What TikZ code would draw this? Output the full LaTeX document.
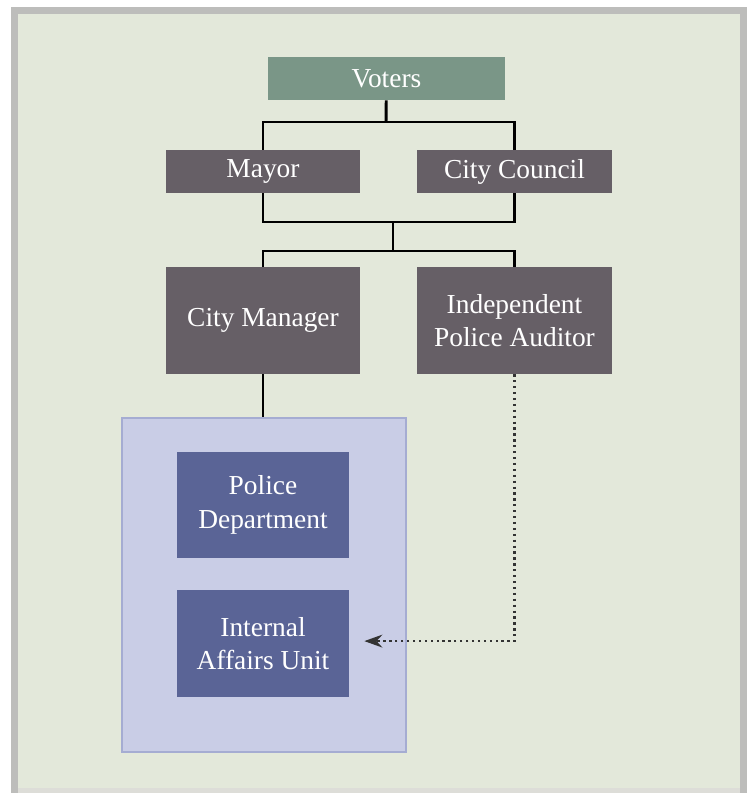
\documentclass[tikz,border=0pt]{standalone}
\usepackage{fontspec}
\setmainfont{Liberation Serif}
\usetikzlibrary{arrows.meta}
\definecolor{frameGray}{HTML}{BDBDBB}
\definecolor{frameLight}{HTML}{DDDDD8}
\definecolor{paperGreen}{HTML}{E3E8DA}
\definecolor{voterGreen}{HTML}{7A9687}
\definecolor{officeGray}{HTML}{665F66}
\definecolor{policeBlue}{HTML}{5A6496}
\definecolor{panelBlue}{HTML}{C9CDE6}
\definecolor{panelEdge}{HTML}{A5ACD2}
\tikzset{%
  >={Stealth[width=3.2mm,length=4.5mm]},
  % Specifications for style of nodes:
        base/.style = {rectangle, draw=none, text=white, align=center,
                       inner sep=0pt, font=\fontsize{19.5}{24}\selectfont},
      voters/.style = {base, fill=voterGreen, minimum width=5.925cm, minimum height=1.075cm},
      office/.style = {base, fill=officeGray, minimum width=4.85cm, minimum height=1.075cm},
   bigOffice/.style = {office, minimum height=2.675cm},
      police/.style = {base, fill=policeBlue, minimum width=4.3cm, minimum height=2.65cm},
       panel/.style = {rectangle, fill=panelBlue, draw=panelEdge, line width=1.2pt,
                       minimum width=7.1cm, minimum height=8.35cm},
        link/.style = {draw=black, line width=2.1pt},
   auditLink/.style = {draw=black!80, line width=1.8pt, line cap=butt,
                       dash pattern=on 1.6pt off 2.6pt},
}

\begin{document}
\begin{tikzpicture}[x=0.025cm, y=-0.025cm]
\useasboundingbox (0,0) rectangle (752,793);
% frame and paper
\fill[frameGray] (11,7) rectangle (747,793);
\fill[frameLight] (18,788) rectangle (740,793);
\fill[paperGreen] (18,14) rectangle (740,788);

% Specification of nodes (position, etc.)
\node (policePanel) at (264,585) [panel] {};

\node (voters) at (386.5,78.5) [voters] {Voters};
\node (mayor) at (263,171.5) [office] {Mayor};
\node (cityCouncil) at (514.5,171.5) [office] {City Council};

\node (cityManager) at (263,320.5) [bigOffice] {City Manager};
\node (policeAuditor) at (514.5,320.5) [bigOffice] {Independent\\Police Auditor};

\node (policeDept) at (263,505) [police] {Police\\Department};
\node (internalAffairs) at (263,643.5) [police] {Internal\\Affairs Unit};

\coordinate (topJoin) at (386,122);
\coordinate (midJoin) at (393,222);
\coordinate (lowJoin) at (393,251);

\draw[link] (voters) -- (topJoin);
\draw[link] (mayor.north) |- (topJoin) -| (cityCouncil.north);

\draw[link] (mayor.south) |- (midJoin) -| (cityCouncil.south);
\draw[link] (midJoin) -- (lowJoin);
\draw[link] (cityManager.north) |- (lowJoin) -| (policeAuditor.north);

\draw[link] (cityManager.south) -- (cityManager.south |- policePanel.north);

%\draw[auditLink,->] (policeAuditor.south) |- (internalAffairs.east);
\draw[auditLink,->] (policeAuditor.south) |- ([xshift=0.375cm, yshift=0.06cm] internalAffairs.east);
\end{tikzpicture}
\end{document}
